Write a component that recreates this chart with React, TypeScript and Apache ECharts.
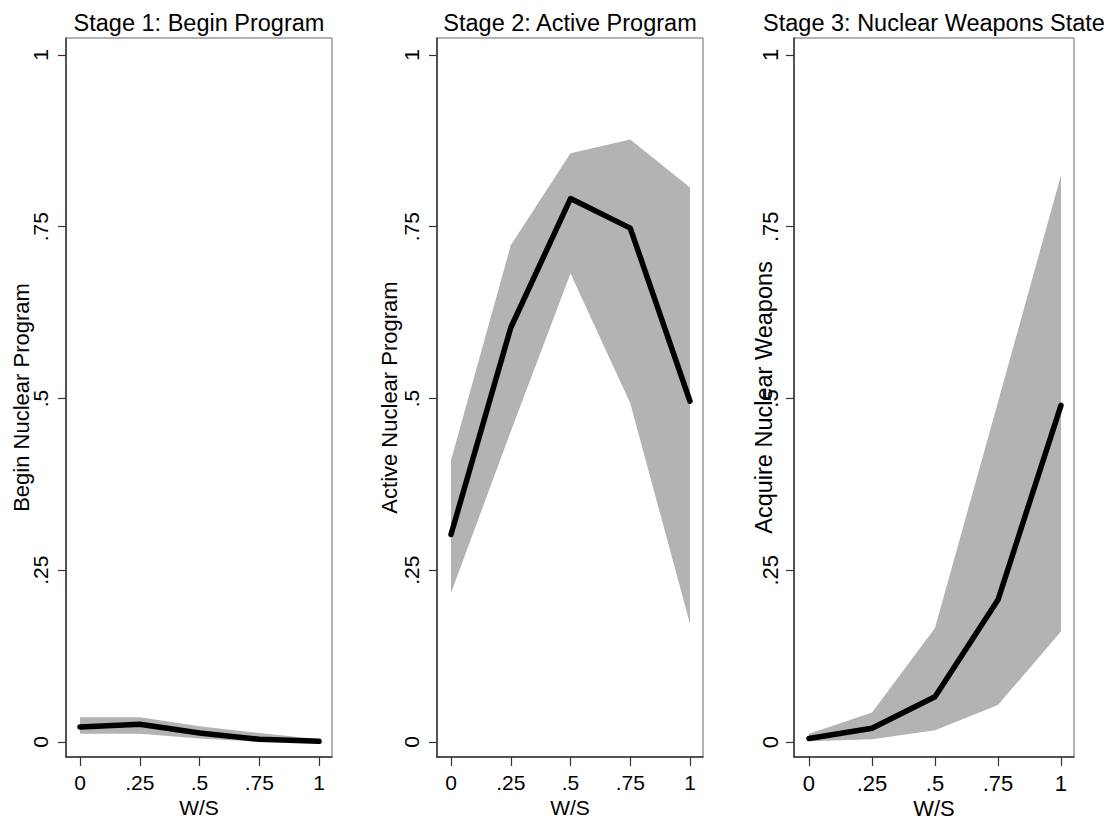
import React, { useEffect, useRef } from "react";
import * as echarts from "echarts";

// ---- data ----
const xValues = [0, 0.25, 0.5, 0.75, 1];
const tickValues = [0, 0.25, 0.5, 0.75, 1];
const tickLabels = ["0", ".25", ".5", ".75", "1"];
const titles = ["Stage 1: Begin Program", "Stage 2: Active Program", "Stage 3: Nuclear Weapons State"];
const yTitles = ["Begin Nuclear Program", "Active Nuclear Program", "Acquire Nuclear Weapons"];
const xTitle = "W/S";

const stage1Mean = [0.022, 0.026, 0.013, 0.004, 0.001];
const stage1Upper = [0.036, 0.036, 0.023, 0.013, 0.004];
const stage1Lower = [0.012, 0.012, 0.005, 0.0005, 0.0];

const stage2Mean = [0.302, 0.603, 0.791, 0.748, 0.496];
const stage2Upper = [0.41, 0.723, 0.857, 0.877, 0.807];
const stage2Lower = [0.217, 0.452, 0.682, 0.493, 0.172];

const stage3Mean = [0.005, 0.02, 0.066, 0.207, 0.49];
const stage3Upper = [0.012, 0.043, 0.166, 0.495, 0.825];
const stage3Lower = [0.001, 0.004, 0.017, 0.054, 0.161];

const FONT = "'Liberation Sans', Arial, Helvetica, sans-serif";

export default function App() {
  const ref = useRef<HTMLDivElement>(null);

  useEffect(() => {
    if (!ref.current) return;
    const chart = echarts.init(ref.current, null, { renderer: "svg" });

    const panels = [
      { mean: stage1Mean, upper: stage1Upper, lower: stage1Lower, left: 66, width: 266, xmin: -0.0586, xmax: 1.0544, labelMargin: 15, nameGap: 34, nameSize: 22, labelSize: 21 },
      { mean: stage2Mean, upper: stage2Upper, lower: stage2Lower, left: 437, width: 266, xmin: -0.0586, xmax: 1.0544, labelMargin: 15, nameGap: 37, nameSize: 22, labelSize: 21 },
      { mean: stage3Mean, upper: stage3Upper, lower: stage3Lower, left: 794, width: 280, xmin: -0.0595, xmax: 1.0516, labelMargin: 13, nameGap: 18, nameSize: 23.5, labelSize: 22 },
    ];

    const top = 38;
    const height = 719;
    const ymin = -0.0218;
    const ymax = 1.0247;
    const fmt = (v: number) => {
      const i = tickValues.findIndex((t) => Math.abs(t - v) < 1e-9);
      return i >= 0 ? tickLabels[i] : "";
    };

    const grid: any[] = [];
    const xAxis: any[] = [];
    const yAxis: any[] = [];
    const series: any[] = [];
    const title: any[] = [];

    panels.forEach((p, i) => {
      grid.push({
        left: p.left,
        top,
        width: p.width,
        height,
        show: true,
        borderColor: "#666",
        borderWidth: 1,
        backgroundColor: "#fff",
      });
      title.push({
        text: titles[i],
        left: p.left + p.width / 2,
        textAlign: "center",
        top: 11,
        padding: 0,
        textStyle: { fontFamily: FONT, fontSize: 23.5, fontWeight: "normal", color: "#000" },
      });
      xAxis.push({
        type: "value",
        gridIndex: i,
        min: p.xmin,
        max: p.xmax,
        name: xTitle,
        nameLocation: "middle",
        nameGap: 40,
        nameMoveOverlap: false,
        nameTextStyle: { fontFamily: FONT, fontSize: p.labelSize, color: "#000" },
        axisLine: { show: true, onZero: false, lineStyle: { color: "#333", width: 1.5 } },
        axisTick: { show: true, length: 9, customValues: tickValues, lineStyle: { color: "#333", width: 1.2 } },
        axisLabel: {
          show: true,
          customValues: tickValues,
          formatter: fmt,
          margin: 15,
          fontFamily: FONT,
          fontSize: p.labelSize,
          color: "#000",
        },
        splitLine: { show: false },
      });
      yAxis.push({
        type: "value",
        gridIndex: i,
        min: ymin,
        max: ymax,
        name: yTitles[i],
        nameLocation: "middle",
        nameRotate: 90,
        nameGap: p.nameGap,
        nameMoveOverlap: false,
        nameTextStyle: { fontFamily: FONT, fontSize: p.nameSize, color: "#000" },
        axisLine: { show: true, onZero: false, lineStyle: { color: "#333", width: 1.5 } },
        axisTick: { show: true, length: 8, customValues: tickValues, lineStyle: { color: "#333", width: 1.2 } },
        axisLabel: {
          show: true,
          customValues: tickValues,
          formatter: fmt,
          rotate: 90,
          margin: p.labelMargin,
          fontFamily: FONT,
          fontSize: p.labelSize,
          color: "#000",
        },
        splitLine: { show: false },
      });
      const bandData = xValues.map((x, k) => [x, p.lower[k], p.upper[k]]);
      series.push({
        type: "custom",
        xAxisIndex: i,
        yAxisIndex: i,
        data: bandData,
        encode: { x: 0, y: [1, 2] },
        silent: true,
        z: 1,
        renderItem: (params: any, api: any) => {
          if (params.dataIndex !== 0) return null;
          const upperPts = bandData.map((d) => api.coord([d[0], d[2]]));
          const lowerPts = bandData.map((d) => api.coord([d[0], d[1]])).reverse();
          return {
            type: "polygon",
            shape: { points: upperPts.concat(lowerPts) },
            style: { fill: "#b3b3b3", stroke: "none" },
          };
        },
      });
      series.push({
        type: "line",
        xAxisIndex: i,
        yAxisIndex: i,
        data: xValues.map((x, k) => [x, p.mean[k]]),
        symbol: "none",
        lineStyle: { color: "#000", width: 5.5, cap: "round", join: "round" },
        silent: true,
        z: 3,
      });
    });

    chart.setOption({
      animation: false,
      backgroundColor: "#fff",
      title,
      grid,
      xAxis,
      yAxis,
      series,
    });

    return () => {
      chart.dispose();
    };
  }, []);

  return (
    <div
      ref={ref}
      style={{ position: "absolute", left: 0, top: 0, width: 1116, height: 825, background: "#fff" }}
    />
  );
}
